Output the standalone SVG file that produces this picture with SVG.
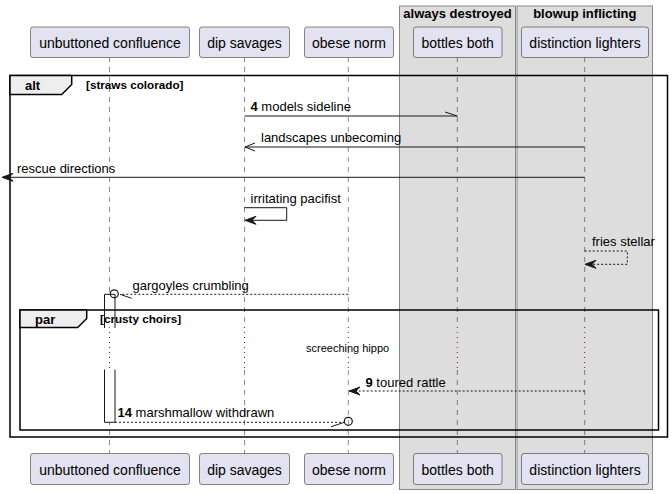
<svg xmlns="http://www.w3.org/2000/svg" width="672" height="494" viewBox="0 0 672 494">
<style>
text{font-family:"Liberation Sans",Arial,sans-serif;fill:#000}
.pt{font-size:14px;text-anchor:middle}
.msg{font-size:13px}
.b{font-weight:bold}
.gt{font-size:13px;font-weight:bold;text-anchor:middle}
.grp{fill:#DDDDDD;stroke:#888;stroke-width:1}
.pbox{fill:#E2E2F0;stroke:#181818;stroke-width:0.5}
.life{stroke:#181818;stroke-width:0.5;stroke-dasharray:5,5;fill:none}
.delay{stroke:#A80036;stroke-width:1;stroke-dasharray:1,4;fill:none}
.frame{fill:none;stroke:#000;stroke-width:1.5}
.tab{fill:#EEEEEE;stroke:#000;stroke-width:1.5}
.ln{stroke:#181818;stroke-width:1;fill:none}
.dl{stroke:#181818;stroke-width:1;fill:none;stroke-dasharray:2,2}
.ah{fill:#181818;stroke:#181818;stroke-width:1}
.cond{font-size:11.7px;font-weight:bold}
</style>
<rect width="672" height="494" fill="#fff"/>
<g id="box-always-destroyed">
<rect class="grp" x="399.5" y="6" width="116" height="483.5"/>
<text class="gt" x="457.5" y="18">always destroyed</text>
</g>
<g id="box-blowup-inflicting">
<rect class="grp" x="517" y="6" width="135.5" height="483.5"/>
<text class="gt" x="584.8" y="18">blowup inflicting</text>
</g>
<g id="lifelines">
<path class="life" d="M109.5,57V327M109.5,370V453"/>
<path class="delay" d="M109.5,327V370"/>
<path class="life" d="M244.5,57V327M244.5,370V453"/>
<path class="delay" d="M244.5,327V370"/>
<path class="life" d="M348.3,57V327M348.3,370V453"/>
<path class="delay" d="M348.3,327V370"/>
<path class="life" d="M457.3,57V327M457.3,370V453"/>
<path class="delay" d="M457.3,327V370"/>
<path class="life" d="M584.7,57V327M584.7,370V453"/>
<path class="delay" d="M584.7,327V370"/>
</g>
<g id="p-unbuttoned-confluence">
<rect class="pbox" x="30.5" y="27" width="159" height="30.5" rx="2.5"/>
<text class="pt" x="110" y="47.5">unbuttoned confluence</text>
<rect class="pbox" x="30.5" y="453.5" width="159" height="31" rx="2.5"/>
<text class="pt" x="110" y="474.5">unbuttoned confluence</text>
</g>
<g id="p-dip-savages">
<rect class="pbox" x="199.5" y="27" width="90" height="30.5" rx="2.5"/>
<text class="pt" x="244.5" y="47.5">dip savages</text>
<rect class="pbox" x="199.5" y="453.5" width="90" height="31" rx="2.5"/>
<text class="pt" x="244.5" y="474.5">dip savages</text>
</g>
<g id="p-obese-norm">
<rect class="pbox" x="304.5" y="27" width="89" height="30.5" rx="2.5"/>
<text class="pt" x="349" y="47.5">obese norm</text>
<rect class="pbox" x="304.5" y="453.5" width="89" height="31" rx="2.5"/>
<text class="pt" x="349" y="474.5">obese norm</text>
</g>
<g id="p-bottles-both">
<rect class="pbox" x="413.5" y="27" width="88.5" height="30.5" rx="2.5"/>
<text class="pt" x="457.7" y="47.5">bottles both</text>
<rect class="pbox" x="413.5" y="453.5" width="88.5" height="31" rx="2.5"/>
<text class="pt" x="457.7" y="474.5">bottles both</text>
</g>
<g id="p-distinction-lighters">
<rect class="pbox" x="521.5" y="27" width="127" height="30.5" rx="2.5"/>
<text class="pt" x="585" y="47.5">distinction lighters</text>
<rect class="pbox" x="521.5" y="453.5" width="127" height="31" rx="2.5"/>
<text class="pt" x="585" y="474.5">distinction lighters</text>
</g>
<g id="activation-fill">
<rect x="104.5" y="294.3" width="10.5" height="33" fill="#fff"/>
<rect x="104.5" y="369.5" width="10.5" height="52.8" fill="#fff"/>
</g>
<g id="frame-alt">
<rect class="frame" x="10" y="75.5" width="657.5" height="361.5"/>
<path class="tab" d="M10,75.5H71.7V84.5L61.7,94.5H10Z"/>
<text class="b" style="font-size:13px" x="25" y="90">alt</text>
<text class="cond" x="86" y="89">[straws colorado]</text>
</g>
<g id="frame-par">
<rect class="frame" x="20" y="310" width="638.5" height="120"/>
<path class="tab" d="M20,310H86.7V318.5L77.7,327.5H20Z"/>
<text class="b" style="font-size:13px" x="35" y="324">par</text>
<text class="cond" x="100" y="323">[crusty choirs]</text>
</g>
<g id="activation">
<path class="ln" d="M104.5,328V294.3H115V328"/>
<path class="ln" d="M104.5,369.5V422.3H115V369.5"/>
</g>
<g id="connectors">
<path class="ln" d="M244.5,116H457.3M457.3,116L445,112"/>
<text class="msg" x="250.5" y="111"><tspan class="b">4</tspan> models sideline</text>
<path class="ln" d="M584.7,147H245M245,147L255,143M245,147L255,151"/>
<text class="msg" x="261" y="142">landscapes unbecoming</text>
<path class="ln" d="M584.7,177.3H3"/>
<polygon class="ah" points="13,173.3 2,177.3 13,181.3 9,177.3"/>
<text class="msg" x="17" y="172.7">rescue directions</text>
<path class="ln" d="M244.5,207.7H286.7V220.3H246"/>
<polygon class="ah" points="256,216.3 245,220.3 256,224.3 252,220.3"/>
<text class="msg" x="250.5" y="203.3">irritating pacifist</text>
<path class="dl" d="M584.7,251H627.3V264.3H586"/>
<polygon class="ah" points="596,260.3 585,264.3 596,268.3 592,264.3"/>
<text class="msg" x="592" y="246">fries stellar</text>
<path class="dl" d="M348.3,294.3H122"/>
<circle cx="114.3" cy="293.8" r="4" fill="none" stroke="#181818" stroke-width="1.2"/>
<path class="ln" d="M120,294.3L131.7,298.3"/>
<text class="msg" x="132.5" y="290">gargoyles crumbling</text>
<text x="306" y="352" style="font-size:11px">screeching hippo</text>
<path class="dl" d="M584.7,391H350"/>
<polygon class="ah" points="360,387 349,391 360,395 356,391"/>
<text class="msg" x="365.5" y="386.5"><tspan class="b">9</tspan> toured rattle</text>
<path class="dl" d="M115,422.3H344"/>
<circle cx="348.3" cy="421.3" r="4" fill="none" stroke="#181818" stroke-width="1.2"/>
<path class="ln" d="M331,426.7L343.3,422.7"/>
<text class="msg" x="117.5" y="416.7"><tspan class="b">14</tspan> marshmallow withdrawn</text>
</g>
</svg>
